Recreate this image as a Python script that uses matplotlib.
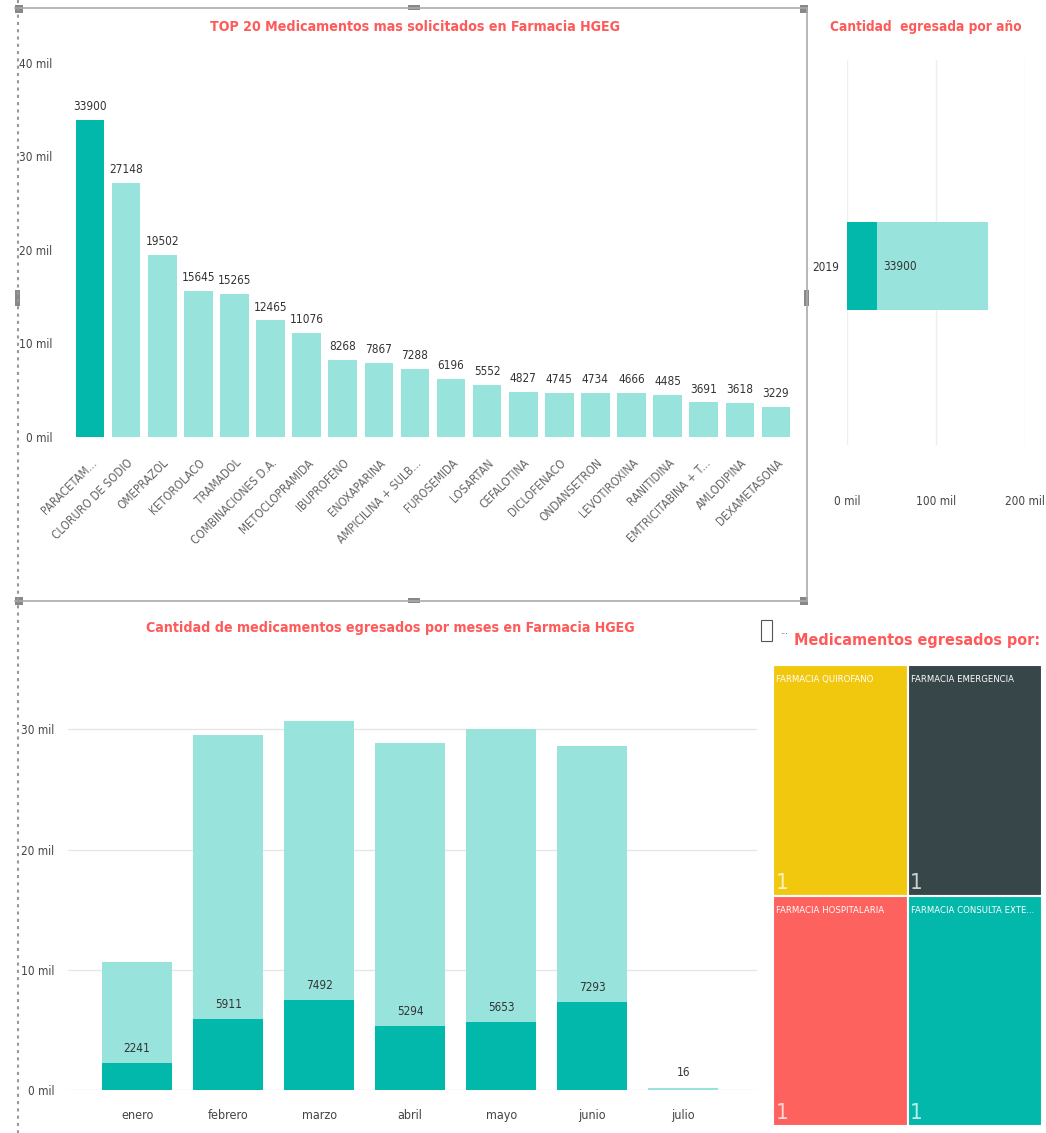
import matplotlib
matplotlib.use("Agg")
import matplotlib.pyplot as plt
from matplotlib.patches import Rectangle
from matplotlib.ticker import FuncFormatter
from matplotlib.lines import Line2D

plt.rcParams['font.family'] = ['DejaVu Sans']
plt.rcParams['font.stretch'] = 'condensed'

# --- data ---
medicamentos = ["PARACETAM...", "CLORURO DE SODIO", "OMEPRAZOL", "KETOROLACO", "TRAMADOL",
                "COMBINACIONES D.A.", "METOCLOPRAMIDA", "IBUPROFENO", "ENOXAPARINA",
                "AMPICILINA + SULB...", "FUROSEMIDA", "LOSARTAN", "CEFALOTINA", "DICLOFENACO",
                "ONDANSETRON", "LEVOTIROXINA", "RANITIDINA", "EMTRICITABINA + T...",
                "AMLODIPINA", "DEXAMETASONA"]
cantidad = [33900, 27148, 19502, 15645, 15265, 12465, 11076, 8268, 7867, 7288,
            6196, 5552, 4827, 4745, 4734, 4666, 4485, 3691, 3618, 3229]

meses = ["enero", "febrero", "marzo", "abril", "mayo", "junio", "julio"]
total_mes = [10680, 29560, 30670, 28880, 30070, 28600, 200]
paracetamol_mes = [2241, 5911, 7492, 5294, 5653, 7293, 16]

anio = "2019"

farmacias = ["FARMACIA QUIROFANO", "FARMACIA EMERGENCIA",
             "FARMACIA HOSPITALARIA", "FARMACIA CONSULTA EXTE..."]
farmacia_valor = [1, 1, 1, 1]

TEAL = "#01B8AA"
TEAL_LIGHT = "#99E3DD"
RED = "#FF5A5A"
GREY = "#666666"
treemap_colors = ["#F2C80F", "#374649", "#FD625E", "#01B8AA"]

W, H = 1046, 1133
fig = plt.figure(figsize=(W / 100, H / 100), dpi=100)
fig.patch.set_facecolor("white")


def rect(x0, y0, x1, y1):
    return [x0 / W, 1 - y1 / H, (x1 - x0) / W, (y1 - y0) / H]


def fx(x):
    return x / W


def fy(y):
    return 1 - y / H


mil = FuncFormatter(lambda v, p: f"{int(round(v / 1000))} mil")

# --- top 20 ---
ax1 = fig.add_axes(rect(72, 63, 794, 437))
pos = range(len(cantidad))
colors1 = [TEAL] + [TEAL_LIGHT] * (len(cantidad) - 1)
ax1.bar(pos, cantidad, width=0.79, color=colors1)
ax1.set_xlim(-0.5, len(cantidad) - 0.5)
ax1.set_ylim(0, 40000)
ax1.set_yticks([0, 10000, 20000, 30000, 40000])
ax1.yaxis.set_major_formatter(mil)
ax1.set_xticks(list(pos))
ax1.set_xticklabels(medicamentos, rotation=45, ha="right", rotation_mode="anchor",
                    fontsize=8.5, color=GREY)
ax1.tick_params(axis="y", length=0, pad=14, labelsize=8.5, labelcolor="#444444")
ax1.tick_params(axis="x", length=0, pad=14)
for s in ax1.spines.values():
    s.set_visible(False)
for i, v in enumerate(cantidad):
    ax1.annotate(str(v), (i, v), xytext=(0, 5), textcoords="offset points",
                 ha="center", va="bottom", fontsize=8.5, color="#333333")
fig.text(fx(415), fy(27), "TOP 20 Medicamentos mas solicitados en Farmacia HGEG",
         ha="center", va="center", fontsize=10.2, fontweight="bold", color=RED)

# --- total per year ---
ax2 = fig.add_axes(rect(847, 60, 1025, 445))
total_anio = sum(total_mes)
sel_anio = sum(paracetamol_mes)
ax2.barh([0], [total_anio], height=1, color=TEAL_LIGHT)
ax2.barh([0], [sel_anio], height=1, color=TEAL)
ax2.set_xlim(0, 200000)
ax2.set_ylim(-2.03, 2.34)
ax2.set_xticks([0, 100000, 200000])
ax2.xaxis.set_major_formatter(mil)
ax2.set_yticks([0])
ax2.set_yticklabels([anio])
ax2.grid(axis="x", color="#eeeeee", linewidth=1)
ax2.set_axisbelow(True)
ax2.tick_params(axis="x", length=0, pad=36, labelsize=8.5, labelcolor="#444444")
ax2.tick_params(axis="y", length=0, pad=6, labelsize=8.5, labelcolor="#333333")
for s in ax2.spines.values():
    s.set_visible(False)
ax2.annotate(str(sel_anio), (sel_anio, 0), xytext=(4, 0), textcoords="offset points",
             ha="left", va="center", fontsize=8.5, color="#333333")
fig.text(fx(926), fy(27), "Cantidad  egresada por año", ha="center", va="center",
         fontsize=9.8, fontweight="bold", color=RED)

# --- monthly ---
ax3 = fig.add_axes(rect(68, 690, 757, 1090))
mpos = range(len(meses))
ax3.bar(mpos, total_mes, width=0.77, color=TEAL_LIGHT)
ax3.bar(mpos, paracetamol_mes, width=0.77, color=TEAL)
ax3.set_xlim(-0.76, len(meses) - 0.19)
ax3.set_ylim(0, 33280)
ax3.set_yticks([0, 10000, 20000, 30000])
ax3.yaxis.set_major_formatter(mil)
ax3.set_xticks(list(mpos))
ax3.set_xticklabels(meses)
ax3.grid(axis="y", color="#e6e6e6", linewidth=1)
ax3.set_axisbelow(True)
ax3.tick_params(axis="y", length=0, pad=10, labelsize=8.5, labelcolor="#444444")
ax3.tick_params(axis="x", length=0, pad=14, labelsize=9, labelcolor="#444444")
for s in ax3.spines.values():
    s.set_visible(False)
for i, v in enumerate(paracetamol_mes):
    top = total_mes[i] if total_mes[i] < 1000 else v
    ax3.annotate(str(v), (i, max(v, top)), xytext=(0, 6), textcoords="offset points",
                 ha="center", va="bottom", fontsize=8.5, color="#333333")
fig.text(fx(390), fy(628), "Cantidad de medicamentos egresados por meses en Farmacia HGEG",
         ha="center", va="center", fontsize=10.2, fontweight="bold", color=RED)

# --- treemap ---
ax4 = fig.add_axes(rect(773, 665, 1042, 1126))
ax4.set_xlim(0, 1)
ax4.set_ylim(1, 0)
ax4.axis("off")
rows = [farmacia_valor[:2], farmacia_valor[2:]]
total_t = sum(farmacia_valor)
y0 = 0
k = 0
for row in rows:
    h = sum(row) / total_t
    x0 = 0
    for v in row:
        w = v / sum(row)
        ax4.add_patch(Rectangle((x0, y0), w, h, facecolor=treemap_colors[k],
                                edgecolor="white", linewidth=1.5))
        ax4.text(x0 + 0.012, y0 + 0.022, farmacias[k], ha="left", va="top",
                 fontsize=6.8, color="white")
        ax4.text(x0 + 0.01, y0 + h - 0.006, str(v), ha="left", va="bottom",
                 fontsize=16, color="white", alpha=0.75)
        x0 += w
        k += 1
    y0 += h
fig.text(fx(917), fy(640), "Medicamentos egresados por:", ha="center", va="center",
         fontsize=11.5, fontweight="bold", color=RED)
fig.text(fx(784), fy(634), "···", ha="center", va="center", fontsize=7, color="#555555")
fig.patches.append(Rectangle((fx(761), fy(641)), 11 / W, 21 / H, transform=fig.transFigure,
                             fill=False, edgecolor="#555555", linewidth=0.8))

# --- focus frame around top chart ---
frame = dict(color="#aaaaaa", linewidth=1.2, transform=fig.transFigure)
fig.lines.append(Line2D([fx(15), fx(807)], [fy(8), fy(8)], **frame))
fig.lines.append(Line2D([fx(15), fx(807)], [fy(601), fy(601)], **frame))
fig.lines.append(Line2D([fx(807), fx(807)], [fy(8), fy(601)], **frame))
fig.lines.append(Line2D([fx(18), fx(18)], [fy(0), fy(1133)], color="#999999",
                        linewidth=1.5, linestyle=(0, (1.5, 2)), transform=fig.transFigure))
for hx, hy, hw, hh in [(15, 5, 8, 8), (800, 5, 8, 8), (15, 597, 8, 8), (800, 597, 8, 8),
                       (408, 5, 12, 5), (408, 598, 12, 5), (804, 290, 5, 16), (15, 290, 5, 16)]:
    fig.patches.append(Rectangle((fx(hx), fy(hy + hh)), hw / W, hh / H,
                                 transform=fig.transFigure, facecolor="#888888",
                                 edgecolor="none"))

fig.savefig("out.png", dpi=100)
